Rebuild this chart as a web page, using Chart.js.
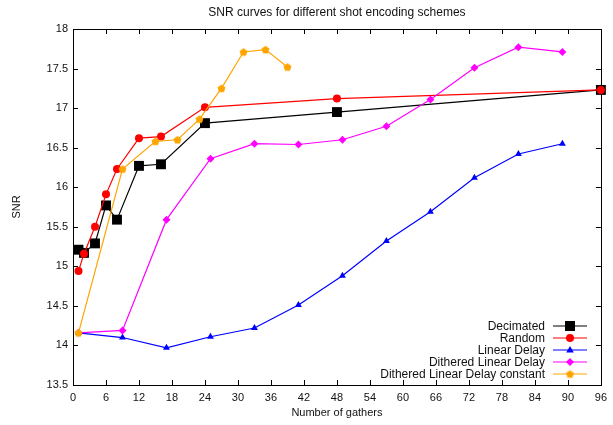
<!DOCTYPE html>
<html>
<head>
<meta charset="utf-8">
<script src="https://cdn.jsdelivr.net/npm/chart.js@4.4.0/dist/chart.umd.min.js"></script>
<style>
  body { margin: 0; background: #fff; }
</style>
</head>
<body>
<canvas id="snrChart" width="613" height="425"></canvas>
<script>
'use strict'

// values
let decimatedX = [1, 2, 4, 6, 8, 12, 16, 24, 48, 96];
let decimatedSNR = [15.21, 15.17, 15.29, 15.77, 15.59, 16.27, 16.29, 16.81, 16.95, 17.23];

let randomX = [1, 2, 4, 6, 8, 12, 16, 24, 48, 96];
let randomSNR = [14.94, 15.16, 15.5, 15.91, 16.23, 16.62, 16.64, 17.01, 17.12, 17.23];

let linearX = [1, 9, 17, 25, 33, 41, 49, 57, 65, 73, 81, 89];
let linearSNR = [14.16, 14.10, 13.97, 14.11, 14.22, 14.51, 14.88, 15.32, 15.69, 16.12, 16.42, 16.55];

let ditheredX = [1, 9, 17, 25, 33, 41, 49, 57, 65, 73, 81, 89];
let ditheredSNR = [14.16, 14.19, 15.59, 16.36, 16.55, 16.54, 16.60, 16.77, 17.11, 17.51, 17.77, 17.71];

let constantX = [1, 9, 15, 19, 23, 27, 31, 35, 39];
let constantSNR = [14.16, 16.23, 16.58, 16.60, 16.86, 17.25, 17.71, 17.74, 17.52];

let seriesNames = ['Decimated', 'Random', 'Linear Delay', 'Dithered Linear Delay', 'Dithered Linear Delay constant'];

let xTickStep = 6;
let yTickStep = 0.5;

function toPoints(xs, ys) {
    let pts = [];
    for (let i = 0; i < xs.length; i++) {
        pts.push({ x: xs[i], y: ys[i] });
    }
    return pts;
}

// pentagon marker for the last series
function makePentagon(color, r) {
    let c = document.createElement('canvas');
    let s = Math.ceil(r * 2 + 2);
    c.width = s;
    c.height = s;
    let g = c.getContext('2d');
    g.fillStyle = color;
    g.beginPath();
    for (let i = 0; i < 5; i++) {
        let a = -Math.PI / 2 + i * 2 * Math.PI / 5;
        let px = s / 2 + r * Math.cos(a);
        let py = s / 2 + r * Math.sin(a) + 0.4;
        if (i === 0) g.moveTo(px, py); else g.lineTo(px, py);
    }
    g.closePath();
    g.fill();
    return c;
}
let pentagon = makePentagon('#ffa500', 4.2);

function drawMarker(ctx, style, color, x, y) {
    ctx.fillStyle = color;
    ctx.beginPath();
    if (style === 'rect') {
        ctx.rect(x - 5, y - 5, 10, 10);
    } else if (style === 'circle') {
        ctx.arc(x, y, 4, 0, Math.PI * 2);
    } else if (style === 'triangle') {
        ctx.moveTo(x, y - 4);
        ctx.lineTo(x + 3.8, y + 2.5);
        ctx.lineTo(x - 3.8, y + 2.5);
        ctx.closePath();
    } else if (style === 'rectRot') {
        ctx.moveTo(x, y - 4);
        ctx.lineTo(x + 4, y);
        ctx.lineTo(x, y + 4);
        ctx.lineTo(x - 4, y);
        ctx.closePath();
    } else {
        ctx.drawImage(style, x - style.width / 2, y - style.height / 2);
        return;
    }
    ctx.fill();
}

// gnuplot style frame: border all round with inward ticks
let frameTicks = {
    id: 'frameTicks',
    beforeDatasetsDraw(chart) {
        let ctx = chart.ctx;
        let a = chart.chartArea;
        let xs = chart.scales.x;
        let ys = chart.scales.y;
        ctx.save();
        ctx.strokeStyle = '#000';
        ctx.lineWidth = 1;
        ctx.beginPath();
        xs.ticks.forEach(function (t) {
            let px = Math.round(xs.getPixelForValue(t.value)) + 0.5;
            ctx.moveTo(px, a.bottom);
            ctx.lineTo(px, a.bottom - 5);
            ctx.moveTo(px, a.top);
            ctx.lineTo(px, a.top + 5);
        });
        ys.ticks.forEach(function (t) {
            let py = Math.round(ys.getPixelForValue(t.value)) + 0.5;
            ctx.moveTo(a.left, py);
            ctx.lineTo(a.left + 5, py);
            ctx.moveTo(a.right, py);
            ctx.lineTo(a.right - 5, py);
        });
        ctx.stroke();
        ctx.strokeRect(Math.round(a.left) + 0.5, Math.round(a.top) + 0.5,
            Math.round(a.right - a.left), Math.round(a.bottom - a.top));
        ctx.restore();
    }
};

// legend inside the plot, text on the left of the sample
let keyBox = {
    id: 'keyBox',
    afterDraw(chart) {
        let ctx = chart.ctx;
        ctx.save();
        ctx.font = '12px "Liberation Sans", Arial, sans-serif';
        ctx.textAlign = 'right';
        ctx.textBaseline = 'middle';
        chart.data.datasets.forEach(function (ds, i) {
            let y = 326 + i * 12;
            ctx.fillStyle = '#111';
            ctx.fillText(ds.label, 545, y + 0.5);
            ctx.strokeStyle = ds.borderColor;
            ctx.lineWidth = 1.2;
            ctx.beginPath();
            ctx.moveTo(553, y);
            ctx.lineTo(587, y);
            ctx.stroke();
            drawMarker(ctx, ds.pointStyle, ds.borderColor, 570, y);
        });
        ctx.restore();
    }
};

let colors = ['#000000', '#ff0000', '#0000ff', '#ff00ff', '#ffa500'];
let styles = ['rect', 'circle', 'triangle', 'rectRot', pentagon];
let radii = [7, 4, 4, 4, 4];
let xsAll = [decimatedX, randomX, linearX, ditheredX, constantX];
let ysAll = [decimatedSNR, randomSNR, linearSNR, ditheredSNR, constantSNR];

let datasets = [];
for (let i = 0; i < seriesNames.length; i++) {
    datasets.push({
        label: seriesNames[i],
        data: toPoints(xsAll[i], ysAll[i]),
        borderColor: colors[i],
        backgroundColor: colors[i],
        borderWidth: 1.2,
        pointStyle: styles[i],
        pointRadius: radii[i],
        pointBorderWidth: 0,
        pointHoverRadius: radii[i],
        tension: 0,
        clip: false,
        order: seriesNames.length - i
    });
}

Chart.defaults.font.family = '"Liberation Sans", Arial, sans-serif';
Chart.defaults.font.size = 11;
Chart.defaults.color = '#111';

let ctx = document.getElementById('snrChart').getContext('2d');
let snrChart = new Chart(ctx, {
    type: 'line',
    data: { datasets: datasets },
    plugins: [frameTicks, keyBox],
    options: {
        responsive: false,
        animation: false,
        layout: { padding: { left: 0, right: 12, top: 0, bottom: 0 } },
        plugins: {
            legend: { display: false },
            tooltip: { enabled: false },
            title: {
                display: true,
                fullSize: false,
                text: 'SNR curves for different shot encoding schemes',
                font: { size: 12, weight: 'normal', lineHeight: 1.2 },
                color: '#111',
                padding: { top: 5, bottom: 9.6 }
            }
        },
        scales: {
            x: {
                type: 'linear',
                min: 0,
                max: 96,
                afterFit: function (s) { s.height = 40; },
                ticks: { stepSize: xTickStep, padding: 6, maxRotation: 0, autoSkip: false },
                grid: { display: false, drawTicks: false },
                border: { display: false },
                title: { display: true, text: 'Number of gathers', padding: { top: 0, bottom: 5 } }
            },
            y: {
                type: 'linear',
                min: 13.5,
                max: 18,
                afterFit: function (s) { s.width = 73; },
                ticks: {
                    stepSize: yTickStep,
                    padding: 5,
                    autoSkip: false,
                    callback: function (v) { return String(Number(v.toFixed(1))); }
                },
                grid: { display: false, drawTicks: false },
                border: { display: false },
                title: { display: true, text: 'SNR', padding: { top: 10, bottom: 9 } }
            }
        }
    }
});
</script>
</body>
</html>
